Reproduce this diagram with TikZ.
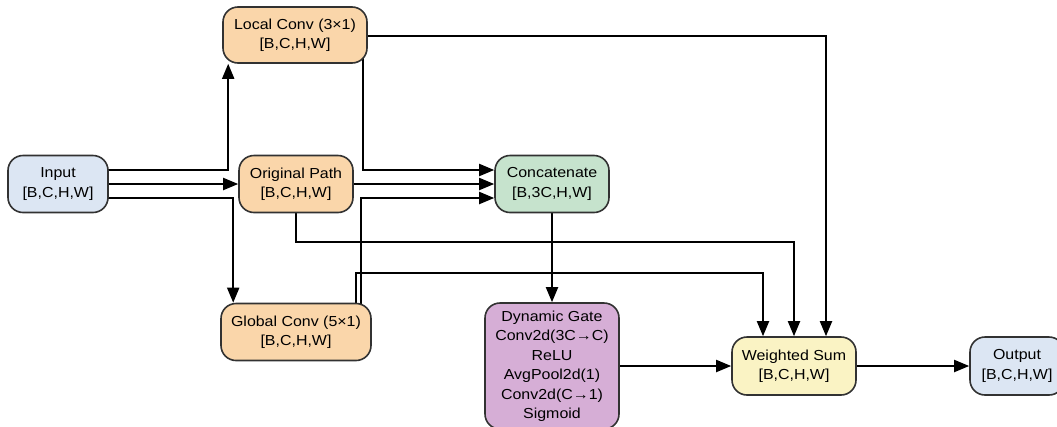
\documentclass[tikz,border=0pt]{standalone}
\usepackage{fontspec}
\setmainfont[FakeStretch=1.1]{Liberation Sans}
\usetikzlibrary{arrows.meta,calc}
\pgfdeclarelayer{bg}
\pgfsetlayers{bg,main}
\definecolor{cblue}{RGB}{220,230,243}
\definecolor{corange}{RGB}{250,214,170}
\definecolor{cgreen}{RGB}{198,227,205}
\definecolor{cpurple}{RGB}{214,174,214}
\definecolor{cyellow}{RGB}{250,243,196}
\definecolor{cborder}{RGB}{50,50,50}
\tikzset{
  box/.style={draw=cborder, line width=1.6pt, rounded corners=15pt, align=center,
    inner sep=0pt, font=\fontsize{14.5}{19.5}\selectfont},
  arr/.style={line width=1.9pt, draw=black, -{Triangle[length=15pt,width=12pt]}},
}
\begin{document}
\begin{tikzpicture}[x=1pt,y=-1pt]
\useasboundingbox (0,0) rectangle (1057,426);
\clip (0,0) rectangle (1057,426);
\node[box, fill=cblue, minimum width=100pt, minimum height=57pt] (in) at (58,184) {Input\\{}[B,C,H,W]};
\node[box, fill=corange, minimum width=144pt, minimum height=56pt] (loc) at (295,35) {Local Conv (3×1)\\{}[B,C,H,W]};
\node[box, fill=corange, minimum width=114pt, minimum height=57pt] (orig) at (296,184) {Original Path\\{}[B,C,H,W]};
\node[box, fill=corange, minimum width=150pt, minimum height=57pt] (glob) at (296,332) {Global Conv (5×1)\\{}[B,C,H,W]};
\node[box, fill=cgreen, minimum width=114pt, minimum height=57pt] (cat) at (552,184) {Concatenate\\{}[B,3C,H,W]};
\node[box, fill=cpurple, minimum width=134pt, minimum height=126pt] (dg) at (552,366) {Dynamic Gate\\Conv2d(3C→C)\\ReLU\\AvgPool2d(1)\\Conv2d(C→1)\\Sigmoid};
\node[box, fill=cyellow, minimum width=124pt, minimum height=58pt] (ws) at (794,366) {Weighted Sum\\{}[B,C,H,W]};
\node[box, fill=cblue, minimum width=94pt, minimum height=58pt] (out) at (1017,366) {Output\\{}[B,C,H,W]};
\begin{pgfonlayer}{bg}
% input fan-out
\draw[arr] ($(in.center)+(0,-14)$) -| ($(loc.south west)+(6,0)$);
\draw[arr] (in.center) -- (orig.west);
\draw[arr] ($(in.center)+(0,14)$) -| ($(glob.north west)+(13,0)$);
% to concatenate
\draw[arr] ($(loc.center)+(68,0)$) |- ($(cat.west)+(0,-14)$);
\draw[arr] (orig.center) -- (cat.west);
\draw[arr] ($(glob.center)+(65,0)$) |- ($(cat.west)+(0,14)$);
% to weighted sum
\draw[arr] ($(loc.center)+(0,1)$) -| ($(ws.north)+(32,0)$);
\draw[arr] (orig.center) -- ++(0,58) -| (ws.north);
\draw[arr] ($(glob.center)+(60,0)$) -- ++(0,-59) -| ($(ws.north)+(-31,0)$);
% gate
\draw[arr] (cat.center) -- (dg.north);
\draw[arr] (dg.center) -- (ws.west);
\draw[arr] (ws.center) -- (out.west);
\end{pgfonlayer}
\end{tikzpicture}
\end{document}
